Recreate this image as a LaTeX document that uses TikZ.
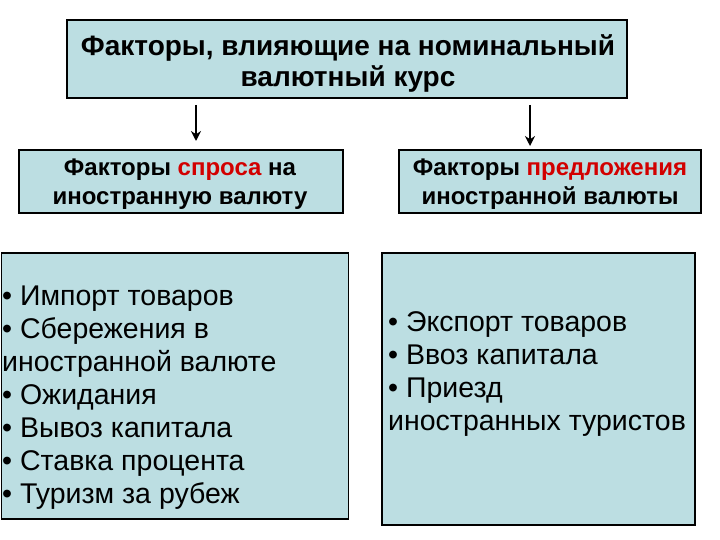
\documentclass[tikz,border=0pt]{standalone}
\usepackage{fontspec}
\setmainfont{Liberation Sans}
\usetikzlibrary{arrows.meta}
\definecolor{boxfill}{RGB}{188,222,226}
\definecolor{accent}{RGB}{210,0,0}
\begin{document}
\begin{tikzpicture}[x=1pt,y=-1pt,
  box/.style={draw=black, line width=1.2pt, fill=boxfill, inner sep=0pt},
  head/.style={font=\bfseries\fontsize{28}{31}\selectfont, align=center, inner sep=0pt},
  sub/.style={font=\bfseries\fontsize{24}{29}\selectfont, align=center, inner sep=0pt},
  items/.style={font=\fontsize{28.5}{33}\selectfont, align=left, inner sep=0pt, anchor=north west},
  arr/.style={line width=2.6pt, -{Stealth[length=10pt,width=10pt]}}]
\useasboundingbox (0,0) rectangle (720,540);
\fill[white] (0,0) rectangle (720,540);
% top box
\node[box, minimum width=560pt, minimum height=78pt] (top) at (347,59) {};
\node[head] (toplabel) at (348,63) {Факторы, влияющие на номинальный\\валютный курс};
% middle boxes
\node[box, minimum width=324pt, minimum height=63pt] (demand) at (181,181.5) {};
\node[sub] (demandlabel) at (180,184.5) {Факторы \textcolor{accent}{спроса} на\\иностранную валюту};
\node[box, minimum width=302pt, minimum height=63pt] (supply) at (550,181.5) {};
\node[sub] (supplylabel) at (550,184.5) {Факторы \textcolor{accent}{предложения}\\иностранной валюты};
% bottom boxes
\node[box, minimum width=347pt, minimum height=266pt] (dlist) at (174.6,386) {};
\node[box, minimum width=313pt, minimum height=272pt] (slist) at (538.5,389) {};
\node[items] (dtext) at (2,286)
  {• Импорт товаров\\• Сбережения в\\иностранной валюте\\• Ожидания\\• Вывоз капитала\\• Ставка процента\\• Туризм за рубеж};
\node[items] (stext) at (388,311)
  {• Экспорт товаров\\• Ввоз капитала\\• Приезд\\иностранных туристов};
% arrows
\coordinate (a1s) at (196,105);
\coordinate (a1e) at (196,141);
\coordinate (a2s) at (530,105);
\coordinate (a2e) at (530,146);
\draw[arr] (a1s) -- (a1e);
\draw[arr] (a2s) -- (a2e);
\end{tikzpicture}
\end{document}
